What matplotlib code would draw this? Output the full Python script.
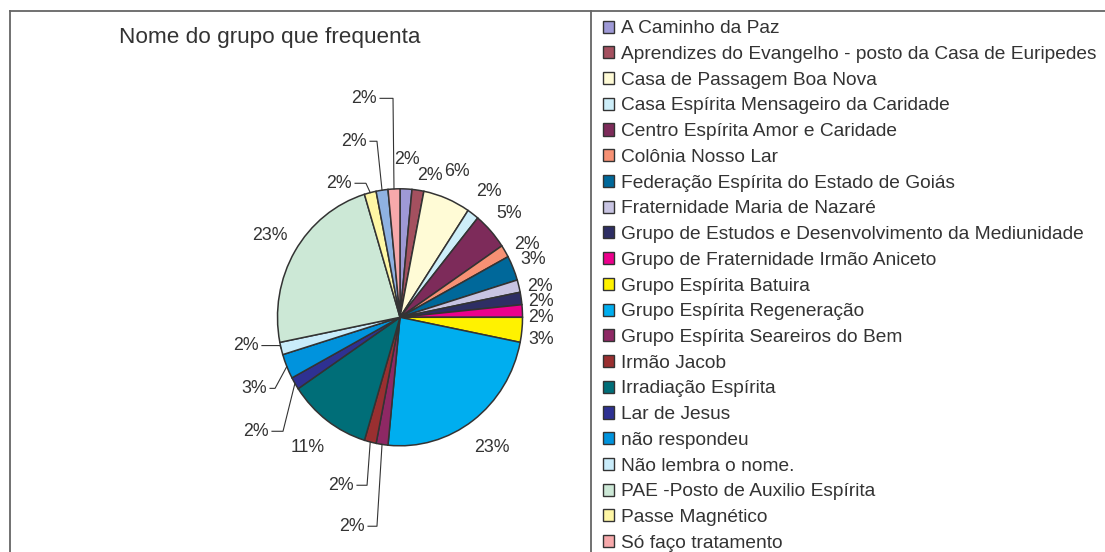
import numpy as np
import matplotlib.pyplot as plt
from matplotlib.patches import Patch
from matplotlib.lines import Line2D

plt.rcParams['font.family'] = ['Liberation Sans', 'DejaVu Sans']

# Data (respostas por grupo, 64 no total)
titulo = 'Nome do grupo que frequenta'
grupos = ['A Caminho da Paz',
          'Aprendizes do Evangelho - posto da Casa de Euripedes',
          'Casa de Passagem Boa Nova',
          'Casa Espírita Mensageiro da Caridade',
          'Centro Espírita Amor e Caridade',
          'Colônia Nosso Lar',
          'Federação Espírita do Estado de Goiás',
          'Fraternidade Maria de Nazaré',
          'Grupo de Estudos e Desenvolvimento da Mediunidade',
          'Grupo de Fraternidade Irmão Aniceto',
          'Grupo Espírita Batuira',
          'Grupo Espírita Regeneração',
          'Grupo Espírita Seareiros do Bem',
          'Irmão Jacob',
          'Irradiação Espírita',
          'Lar de Jesus',
          'não respondeu',
          'Não lembra o nome.',
          'PAE -Posto de Auxilio Espírita',
          'Passe Magnético',
          '',  # fatia sem entrada visivel na legenda
          'Só faço tratamento']
contagem = [1, 1, 4, 1, 3, 1, 2, 1, 1, 1, 2, 15, 1, 1, 7, 1, 2, 1, 15, 1, 1, 1]
cores = ['#9e99d6', '#a4505f', '#fffbd6', '#cdeef9', '#7d2b5a', '#f79174',
         '#00689a', '#c8c4e2', '#2e2e64', '#ec008c', '#fff200', '#00aeef',
         '#8e2864', '#9a2f30', '#006e78', '#2e3192', '#0093dd', '#c9ecfa',
         '#cce8d6', '#fff7a5', '#8fb2e2', '#f7a9ab']

# label layout: leader lines (elbow x, elbow y, left end of horizontal)
leaders = {21: (-0.057, 1.704, -0.163),
           20: (-0.188, 1.370, -0.245),
           19: (-0.278, 1.043, -0.367),
           17: (-0.98, -0.22, -1.127),
           16: (-1.02, -0.553, -1.061),
           15: (-0.955, -0.887, -1.045),
           13: (-0.269, -1.307, -0.351),
           12: (-0.188, -1.626, -0.261)}
# labels pushed apart where slices are crowded
nudged = {1: (0.245, 1.105),
          5: (1.037, 0.570),
          6: (1.086, 0.446),
          7: (1.143, 0.236),
          8: (1.151, 0.120),
          9: (1.151, -0.005),
          10: (1.151, -0.176)}

W, H = 1105, 552
fig = plt.figure(figsize=(W / 100, H / 100), dpi=100)

# pie axes (slightly taller than wide, as in the original)
cx, cy, rx, ry, L = 400, 317.3, 122.5, 128.5, 1.3
ax = fig.add_axes([(cx - L * rx) / W, (H - cy - L * ry) / H,
                   2 * L * rx / W, 2 * L * ry / H])
wedges, _ = ax.pie(contagem, colors=cores, startangle=90, counterclock=False,
                   wedgeprops=dict(edgecolor='#333333', linewidth=1.1))
ax.set_aspect('auto')
ax.set_xlim(-L, L)
ax.set_ylim(-L, L)

total = sum(contagem)
for i, (w, v) in enumerate(zip(wedges, contagem)):
    txt = f'{100 * v / total:.0f}%'
    mid = np.deg2rad((w.theta1 + w.theta2) / 2)
    ex, ey = np.cos(mid), np.sin(mid)
    if i in leaders:
        bx, by, lx = leaders[i]
        ax.plot([ex, bx, lx], [ey, by, by], color='#333333', lw=0.8,
                clip_on=False)
        ax.text(lx - 0.025, by, txt, ha='right', va='center',
                fontsize=12.8, color='#333333')
    else:
        if i in nudged:
            tx, ty = nudged[i]
        else:
            d = 1.15 + 0.08 * abs(np.sin(mid)) + (0.05 if len(txt) > 2 else 0)
            tx, ty = d * ex, d * ey
        ax.text(tx, ty, txt, ha='center', va='center', fontsize=12.8,
                color='#333333')

fig.text(270 / W, 1 - 43 / H, titulo, ha='center', va='baseline',
         fontsize=16.2, color='#333333')

# legend
handles = [Patch(facecolor=c, edgecolor='#333333', linewidth=1.0)
           for g, c in zip(grupos, cores) if g]
labels = [g for g in grupos if g]
fig.legend(handles, labels, loc='upper left',
           bbox_to_anchor=(603 / W, 1 - 20.3 / H), frameon=False,
           fontsize=13.75, handlelength=0.6, handleheight=0.6,
           handletextpad=0.34, labelspacing=0.457, borderpad=0,
           borderaxespad=0, labelcolor='#333333')

# chart borders
top = 1 - 10.7 / H
for xs, ys in [([9.5 / W, 9.5 / W], [top, 0]),
               ([9.5 / W, 1], [top, top]),
               ([591 / W, 591 / W], [top, 0])]:
    fig.add_artist(Line2D(xs, ys, color='#666666', lw=1.3,
                          transform=fig.transFigure))

fig.savefig('out.png', dpi=100)
